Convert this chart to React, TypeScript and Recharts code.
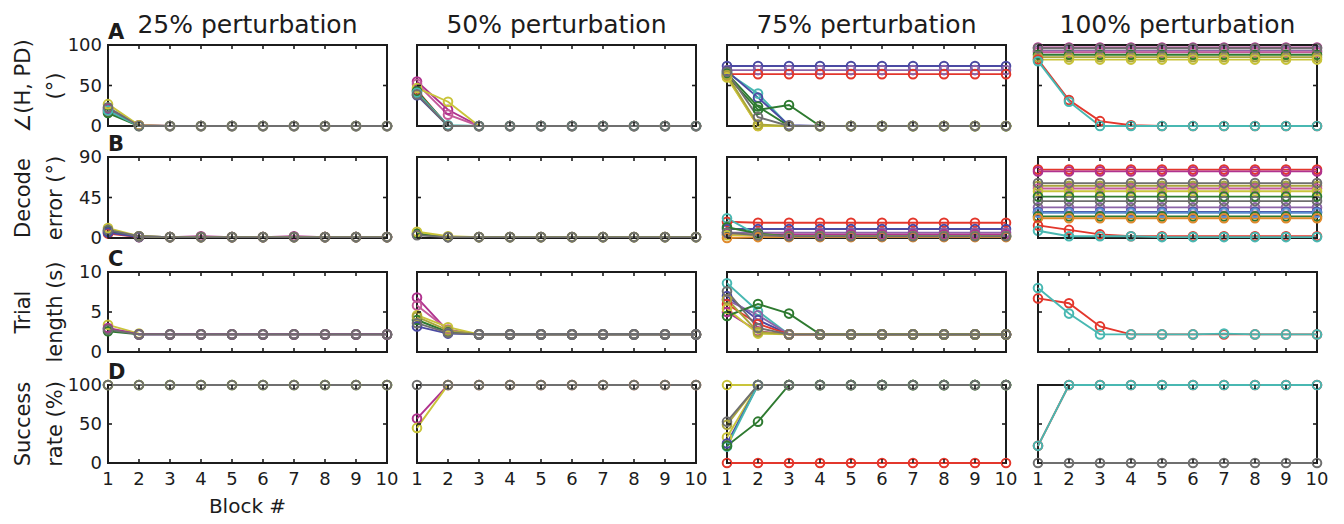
import { LineChart, Line, XAxis, YAxis, ReferenceArea } from "recharts";

// blocks on the x axis
const blocks = [1, 2, 3, 4, 5, 6, 7, 8, 9, 10];

const titles = ["25% perturbation", "50% perturbation", "75% perturbation", "100% perturbation"];

// ---- A: angle between H and PD (deg) ----
const angle25 = [
  [18, 0, 0, 0, 0, 0, 0, 0, 0, 0],
  [20, 1, 0, 0, 0, 0, 0, 0, 0, 0],
  [22, 1, 0, 0, 0, 0, 0, 0, 0, 0],
  [16, 0, 0, 0, 0, 0, 0, 0, 0, 0],
  [19, 0, 0, 0, 0, 0, 0, 0, 0, 0],
  [27, 1, 0, 0, 0, 0, 0, 0, 0, 0],
  [23, 0, 0, 0, 0, 0, 0, 0, 0, 0],
];
const angle25Colors = ["red", "blue", "magenta", "green", "cyan", "yellow", "gray"];

const angle50 = [
  [38, 0, 0, 0, 0, 0, 0, 0, 0, 0],
  [44, 0, 0, 0, 0, 0, 0, 0, 0, 0],
  [55, 20, 0, 0, 0, 0, 0, 0, 0, 0],
  [52, 14, 0, 0, 0, 0, 0, 0, 0, 0],
  [47, 30, 0, 0, 0, 0, 0, 0, 0, 0],
  [43, 0, 0, 0, 0, 0, 0, 0, 0, 0],
  [41, 1, 0, 0, 0, 0, 0, 0, 0, 0],
  [39, 0, 0, 0, 0, 0, 0, 0, 0, 0],
];
const angle50Colors = ["blue", "red", "magenta", "pink", "yellow", "green", "cyan", "gray"];

const angle75 = [
  [74, 74, 74, 74, 74, 74, 74, 74, 74, 74],
  [69, 69, 69, 69, 69, 69, 69, 69, 69, 69],
  [64, 64, 64, 64, 64, 64, 64, 64, 64, 64],
  [66, 40, 0, 0, 0, 0, 0, 0, 0, 0],
  [68, 35, 1, 0, 0, 0, 0, 0, 0, 0],
  [62, 20, 26, 0, 0, 0, 0, 0, 0, 0],
  [65, 24, 0, 0, 0, 0, 0, 0, 0, 0],
  [61, 0, 0, 0, 0, 0, 0, 0, 0, 0],
  [60, 0, 0, 0, 0, 0, 0, 0, 0, 0],
  [63, 2, 0, 0, 0, 0, 0, 0, 0, 0],
  [67, 11, 0, 0, 0, 0, 0, 0, 0, 0],
];
const angle75Colors = ["blue", "purple", "red", "cyan", "blue", "green", "green", "orange", "yellow", "olive", "gray"];

const angle100 = [
  [97, 97, 97, 97, 97, 97, 97, 97, 97, 97],
  [93, 93, 93, 93, 93, 93, 93, 93, 93, 93],
  [91, 91, 91, 91, 91, 91, 91, 91, 91, 91],
  [88, 88, 88, 88, 88, 88, 88, 88, 88, 88],
  [85, 85, 85, 85, 85, 85, 85, 85, 85, 85],
  [82, 82, 82, 82, 82, 82, 82, 82, 82, 82],
  [96, 96, 96, 96, 96, 96, 96, 96, 96, 96],
  [82, 32, 6, 1, 0, 0, 0, 0, 0, 0],
  [80, 30, 0, 0, 0, 0, 0, 0, 0, 0],
];
const angle100Colors = ["magenta", "purple", "pink", "green", "olive", "yellow", "gray", "red", "cyan"];

// ---- B: decode error (deg) ----
const decode25 = [
  [5, 1, 1, 1, 1, 1, 1, 1, 1, 1],
  [7, 2, 1, 2, 1, 1, 2, 1, 1, 1],
  [8, 2, 1, 1, 1, 1, 1, 1, 1, 1],
  [6, 1, 1, 1, 1, 1, 1, 1, 1, 1],
  [11, 2, 1, 1, 1, 1, 1, 1, 1, 1],
  [9, 2, 1, 1, 1, 1, 1, 1, 1, 1],
];
const decode25Colors = ["red", "magenta", "green", "blue", "yellow", "gray"];

const decode50 = [
  [4, 1, 1, 1, 1, 1, 1, 1, 1, 1],
  [5, 1, 1, 1, 1, 1, 1, 1, 1, 1],
  [7, 2, 1, 1, 1, 1, 1, 1, 1, 1],
  [3, 1, 1, 1, 1, 1, 1, 1, 1, 1],
];
const decode50Colors = ["magenta", "green", "yellow", "gray"];

const decode75 = [
  [18, 17, 17, 17, 17, 17, 17, 17, 17, 17],
  [10, 10, 10, 10, 10, 10, 10, 10, 10, 10],
  [6, 6, 6, 6, 6, 6, 6, 6, 6, 6],
  [4, 4, 4, 4, 4, 4, 4, 4, 4, 4],
  [22, 3, 2, 2, 2, 2, 2, 2, 2, 2],
  [12, 5, 2, 2, 2, 2, 2, 2, 2, 2],
  [3, 3, 2, 2, 2, 2, 2, 2, 2, 2],
  [0, 1, 1, 1, 1, 1, 1, 1, 1, 1],
  [6, 3, 2, 2, 2, 2, 2, 2, 2, 2],
];
const decode75Colors = ["red", "blue", "purple", "magenta", "cyan", "green", "yellow", "orange", "gray"];

const decode100 = [
  [76, 76, 76, 76, 76, 76, 76, 76, 76, 76],
  [74, 74, 74, 74, 74, 74, 74, 74, 74, 74],
  [58, 58, 58, 58, 58, 58, 58, 58, 58, 58],
  [55, 55, 55, 55, 55, 55, 55, 55, 55, 55],
  [52, 52, 52, 52, 52, 52, 52, 52, 52, 52],
  [46, 46, 46, 46, 46, 46, 46, 46, 46, 46],
  [34, 34, 34, 34, 34, 34, 34, 34, 34, 34],
  [29, 29, 29, 29, 29, 29, 29, 29, 29, 29],
  [28, 28, 28, 28, 28, 28, 28, 28, 28, 28],
  [24, 24, 24, 24, 24, 24, 24, 24, 24, 24],
  [22, 22, 22, 22, 22, 22, 22, 22, 22, 22],
  [61, 61, 61, 61, 61, 61, 61, 61, 61, 61],
  [41, 41, 41, 41, 41, 41, 41, 41, 41, 41],
  [14, 9, 4, 2, 2, 2, 2, 2, 2, 2],
  [8, 2, 2, 2, 1, 1, 1, 1, 1, 1],
];
const decode100Colors = [
  "red", "magenta", "olive", "pink", "yellow", "green", "purple", "blue", "lightblue",
  "green", "orange", "gray", "gray", "red", "cyan",
];

// ---- C: trial length (s) ----
const trial25 = [
  [3.4, 2.3, 2.2, 2.2, 2.2, 2.2, 2.2, 2.2, 2.2, 2.2],
  [2.6, 2.2, 2.2, 2.2, 2.2, 2.2, 2.2, 2.2, 2.2, 2.2],
  [2.9, 2.2, 2.2, 2.2, 2.2, 2.2, 2.2, 2.2, 2.2, 2.2],
  [3.0, 2.2, 2.2, 2.2, 2.2, 2.2, 2.2, 2.2, 2.2, 2.2],
  [2.8, 2.2, 2.2, 2.2, 2.2, 2.2, 2.2, 2.2, 2.2, 2.2],
];
const trial25Colors = ["yellow", "green", "blue", "magenta", "gray"];

const trial50 = [
  [6.8, 2.6, 2.2, 2.2, 2.2, 2.2, 2.2, 2.2, 2.2, 2.2],
  [5.8, 2.8, 2.2, 2.2, 2.2, 2.2, 2.2, 2.2, 2.2, 2.2],
  [4.6, 3.1, 2.2, 2.2, 2.2, 2.2, 2.2, 2.2, 2.2, 2.2],
  [4.0, 2.5, 2.2, 2.2, 2.2, 2.2, 2.2, 2.2, 2.2, 2.2],
  [4.4, 2.7, 2.2, 2.2, 2.2, 2.2, 2.2, 2.2, 2.2, 2.2],
  [3.2, 2.3, 2.2, 2.2, 2.2, 2.2, 2.2, 2.2, 2.2, 2.2],
  [3.6, 2.4, 2.2, 2.2, 2.2, 2.2, 2.2, 2.2, 2.2, 2.2],
];
const trial50Colors = ["magenta", "pink", "yellow", "green", "olive", "blue", "gray"];

const trial75 = [
  [8.6, 5.1, 2.2, 2.2, 2.2, 2.2, 2.2, 2.2, 2.2, 2.2],
  [7.0, 4.0, 2.2, 2.2, 2.2, 2.2, 2.2, 2.2, 2.2, 2.2],
  [6.5, 4.6, 2.2, 2.2, 2.2, 2.2, 2.2, 2.2, 2.2, 2.2],
  [6.0, 3.5, 2.2, 2.2, 2.2, 2.2, 2.2, 2.2, 2.2, 2.2],
  [5.0, 2.6, 2.2, 2.2, 2.2, 2.2, 2.2, 2.2, 2.2, 2.2],
  [5.4, 2.3, 2.2, 2.2, 2.2, 2.2, 2.2, 2.2, 2.2, 2.2],
  [4.5, 6.0, 4.8, 2.2, 2.2, 2.2, 2.2, 2.2, 2.2, 2.2],
  [6.6, 2.5, 2.2, 2.2, 2.2, 2.2, 2.2, 2.2, 2.2, 2.2],
  [7.6, 3.0, 2.2, 2.2, 2.2, 2.2, 2.2, 2.2, 2.2, 2.2],
];
const trial75Colors = ["cyan", "blue", "purple", "red", "magenta", "yellow", "green", "olive", "gray"];

const trial100 = [
  [6.7, 6.1, 3.2, 2.2, 2.2, 2.2, 2.2, 2.2, 2.2, 2.2],
  [8.0, 4.8, 2.2, 2.2, 2.2, 2.2, 2.3, 2.2, 2.2, 2.2],
];
const trial100Colors = ["red", "cyan"];

// ---- D: success rate (%) ----
const success25 = [
  [100, 100, 100, 100, 100, 100, 100, 100, 100, 100],
  [100, 100, 100, 100, 100, 100, 100, 100, 100, 100],
  [100, 100, 100, 100, 100, 100, 100, 100, 100, 100],
];
const success25Colors = ["green", "yellow", "gray"];

const success50 = [
  [57, 100, 100, 100, 100, 100, 100, 100, 100, 100],
  [45, 100, 100, 100, 100, 100, 100, 100, 100, 100],
  [100, 100, 100, 100, 100, 100, 100, 100, 100, 100],
];
const success50Colors = ["magenta", "yellow", "gray"];

const success75 = [
  [0, 0, 0, 0, 0, 0, 0, 0, 0, 0],
  [100, 100, 100, 100, 100, 100, 100, 100, 100, 100],
  [49, 100, 100, 100, 100, 100, 100, 100, 100, 100],
  [33, 100, 100, 100, 100, 100, 100, 100, 100, 100],
  [25, 100, 100, 100, 100, 100, 100, 100, 100, 100],
  [21, 100, 100, 100, 100, 100, 100, 100, 100, 100],
  [22, 53, 100, 100, 100, 100, 100, 100, 100, 100],
  [53, 100, 100, 100, 100, 100, 100, 100, 100, 100],
];
const success75Colors = ["red", "yellow", "olive", "yellow", "blue", "cyan", "green", "gray"];

const success100 = [
  [22, 100, 100, 100, 100, 100, 100, 100, 100, 100],
  [22, 100, 100, 100, 100, 100, 100, 100, 100, 100],
  [0, 0, 0, 0, 0, 0, 0, 0, 0, 0],
];
const success100Colors = ["red", "cyan", "gray"];

const palette: Record<string, string> = {
  blue: "#4b4aa3",
  red: "#e3372c",
  green: "#2e7a30",
  magenta: "#b0338f",
  pink: "#c45a9a",
  yellow: "#c9c43a",
  olive: "#a9a53c",
  cyan: "#48b8b2",
  lightblue: "#5a8fd0",
  purple: "#8c64a8",
  orange: "#e08a2c",
  gray: "#6f6f6f",
};

const rowsCfg = [
  { letter: "A", label: ["\u2220(H, PD)", "(\u00b0)"], domain: [0, 100], ticks: [0, 50, 100],
    panels: [angle25, angle50, angle75, angle100], colors: [angle25Colors, angle50Colors, angle75Colors, angle100Colors] },
  { letter: "B", label: ["Decode", "error (\u00b0)"], domain: [0, 90], ticks: [0, 45, 90],
    panels: [decode25, decode50, decode75, decode100], colors: [decode25Colors, decode50Colors, decode75Colors, decode100Colors] },
  { letter: "C", label: ["Trial", "length (s)"], domain: [0, 10], ticks: [0, 5, 10],
    panels: [trial25, trial50, trial75, trial100], colors: [trial25Colors, trial50Colors, trial75Colors, trial100Colors] },
  { letter: "D", label: ["Success", "rate (%)"], domain: [0, 100], ticks: [0, 50, 100],
    panels: [success25, success50, success75, success100], colors: [success25Colors, success50Colors, success75Colors, success100Colors] },
];

const colLeft = [108, 417, 727, 1038];
const rowTop = [45, 157, 272, 385];
const rowH = [81, 81, 80, 78];
const PW = 279;
const FONT = "'DejaVu Sans', sans-serif";
const INK = "#1c1c1c";
const TICK = 4;

// bottom-axis tick: inward mark at the bottom and top of the box, optional label
function XTick({ x, y, payload, plotH, showLabel }: any) {
  return (
    <g>
      <line x1={x} y1={y} x2={x} y2={y - TICK} stroke={INK} strokeWidth={1.6} />
      <line x1={x} y1={y - plotH} x2={x} y2={y - plotH + TICK} stroke={INK} strokeWidth={1.6} />
      {showLabel && (
        <text x={x} y={y + 22} textAnchor="middle" fontSize={18} fill={INK} fontFamily={FONT}>
          {payload.value}
        </text>
      )}
    </g>
  );
}

// left-axis tick: inward mark at the left and right of the box, optional label
function YTick({ x, y, payload, showLabel }: any) {
  return (
    <g>
      <line x1={x} y1={y} x2={x + TICK} y2={y} stroke={INK} strokeWidth={1.6} />
      <line x1={x + PW} y1={y} x2={x + PW - TICK} y2={y} stroke={INK} strokeWidth={1.6} />
      {showLabel && (
        <text x={x - 6} y={y} dy="0.36em" textAnchor="end" fontSize={18} fill={INK} fontFamily={FONT}>
          {payload.value}
        </text>
      )}
    </g>
  );
}

function Panel({ series, colors, domain, ticks, left, top, height, showY, showX }: any) {
  const m = 14;
  const yw = showY ? 62 : 1;
  const xh = showX ? 30 : 1;
  const data = blocks.map((b, i) => {
    const r: any = { block: b };
    series.forEach((s: number[], j: number) => (r["s" + j] = s[i]));
    return r;
  });
  return (
    <div style={{ position: "absolute", left: left - m - yw, top: top - m }}>
      <LineChart width={m + yw + PW + m} height={m + height + xh + m} data={data}
        margin={{ top: m, right: m, bottom: m, left: m }}>
        <XAxis dataKey="block" type="number" domain={[1, 10]} ticks={blocks} interval={0}
          height={xh} tickSize={0} tickMargin={0} tickLine={false} axisLine={false}
          tick={(p: any) => <XTick {...p} plotH={height} showLabel={showX} />} />
        <YAxis type="number" domain={domain} ticks={ticks} interval={0} width={yw}
          tickSize={0} tickMargin={0} tickLine={false} axisLine={false}
          tick={(p: any) => <YTick {...p} showLabel={showY} />} />
        <ReferenceArea x1={1} x2={10} y1={domain[0]} y2={domain[1]} fill="none"
          stroke={INK} strokeWidth={2} strokeOpacity={1} fillOpacity={0} />
        {series.map((_s: number[], j: number) => {
          const c = palette[colors[j]];
          return (
            <Line key={j} type="linear" dataKey={"s" + j} stroke={c} strokeWidth={1.9}
              dot={{ r: 4.3, stroke: c, strokeWidth: 2, fill: "none" }} activeDot={false}
              isAnimationActive={false} />
          );
        })}
      </LineChart>
    </div>
  );
}

export default function App() {
  return (
    <div style={{ position: "absolute", left: 0, top: 0, width: 1344, height: 524, background: "#fff", fontFamily: FONT, color: INK }}>
      {titles.map((t, c) => (
        <div key={t} style={{ position: "absolute", left: colLeft[c], top: 10, width: PW, textAlign: "center", fontSize: 25, lineHeight: "30px", whiteSpace: "nowrap" }}>
          {t}
        </div>
      ))}
      {rowsCfg.map((row, r) => (
        <div key={row.letter}>
          <div style={{ position: "absolute", left: 39 - 100, top: rowTop[r] + rowH[r] / 2 - 32, width: 200, height: 64,
            transform: "rotate(-90deg)", textAlign: "center", fontSize: 21, lineHeight: "32px", whiteSpace: "nowrap" }}>
            <div>{row.label[0]}</div>
            <div>{row.label[1]}</div>
          </div>
          {row.panels.map((series, c) => (
            <Panel key={c} series={series} colors={row.colors[c]} domain={row.domain} ticks={row.ticks}
              left={colLeft[c]} top={rowTop[r]} height={rowH[r]} showY={c === 0} showX={r === 3} />
          ))}
          <div style={{ position: "absolute", left: 108, top: rowTop[r] - 23, fontSize: 21, fontWeight: "bold", lineHeight: "21px" }}>
            {row.letter}
          </div>
        </div>
      ))}
      <div style={{ position: "absolute", left: colLeft[0], top: 494, width: PW, textAlign: "center", fontSize: 20, lineHeight: "24px" }}>
        Block #
      </div>
    </div>
  );
}
